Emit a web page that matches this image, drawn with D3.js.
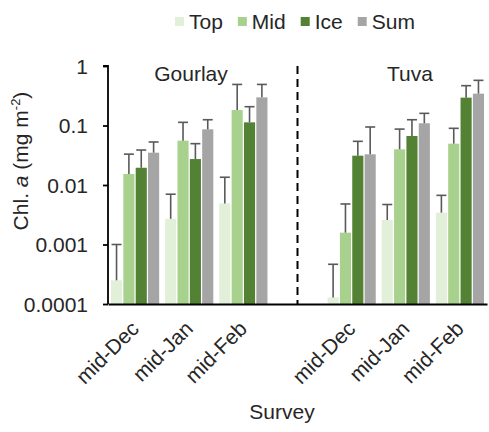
<!DOCTYPE html>
<html><head><meta charset="utf-8">
<script src="https://cdn.jsdelivr.net/npm/d3@7"></script>
<style>
body{margin:0;background:#fff;}
text{font-family:"Liberation Sans",Arial,sans-serif;fill:#262626;}
</style></head>
<body><svg id="c" width="489" height="432"></svg>
<script>
const categories = ["mid-Dec","mid-Jan","mid-Feb"];
const sites = ["Gourlay","Tuva"];
const seriesNames = ["Top","Mid","Ice","Sum"];
const seriesColors = ["#e2efd9","#a9d18e","#548235","#a5a5a5"];
const yTicks = [0.0001,0.001,0.01,0.1,1];
const yTickLabels = ["0.0001","0.001","0.01","0.1","1"];
// means per series (Top, Mid, Ice, Sum), one value per survey
const gourlayTop = [0.00025,0.0027,0.0049];
const gourlayMid = [0.0153,0.0556,0.182];
const gourlayIce = [0.0195,0.0273,0.113];
const gourlaySum = [0.0349,0.0863,0.297];
// upper end of error bars
const gourlayTopUp = [0.001,0.007,0.0135];
const gourlayMidUp = [0.033,0.113,0.49];
const gourlayIceUp = [0.0387,0.0495,0.207];
const gourlaySumUp = [0.0528,0.125,0.49];
const tuvaTop = [0.000129,0.00258,0.00343];
const tuvaMid = [0.00158,0.0398,0.0495];
const tuvaIce = [0.0311,0.0666,0.294];
const tuvaSum = [0.0328,0.109,0.343];
const tuvaTopUp = [0.000465,0.0047,0.0067];
const tuvaMidUp = [0.0048,0.087,0.0897];
const tuvaIceUp = [0.0542,0.125,0.467];
const tuvaSumUp = [0.0944,0.16,0.574];

const siteMeans = {Gourlay:[gourlayTop,gourlayMid,gourlayIce,gourlaySum], Tuva:[tuvaTop,tuvaMid,tuvaIce,tuvaSum]};
const siteUps = {Gourlay:[gourlayTopUp,gourlayMidUp,gourlayIceUp,gourlaySumUp], Tuva:[tuvaTopUp,tuvaMidUp,tuvaIceUp,tuvaSumUp]};

const slots = [];
sites.forEach((s,i)=>{ if(i>0) slots.push("gap"); categories.forEach(c=>slots.push(s+"|"+c)); });
const rows = [];
sites.forEach(s=>categories.forEach((c,ci)=>seriesNames.forEach((n,si)=>{
  rows.push({slot:s+"|"+c, series:n, color:seriesColors[si], v:siteMeans[s][si][ci], up:siteUps[s][si][ci]});
})));

const FS = "21px";
const svg = d3.select("#c");
const pL=108, pR=487, pT=66, pB=304;
const x0 = d3.scaleBand().domain(slots).range([pL,pR]).paddingInner(0.11).paddingOuter(0.055);
const x1 = d3.scaleBand().domain(seriesNames).range([0,x0.bandwidth()]).paddingInner(0.1);
const y = d3.scaleLog().domain([0.0001,1]).range([pB,pT]);

// bars
svg.append("g").selectAll("rect").data(rows).join("rect")
  .attr("x",d=>x0(d.slot)+x1(d.series))
  .attr("y",d=>y(d.v))
  .attr("width",x1.bandwidth())
  .attr("height",d=>pB-y(d.v))
  .attr("fill",d=>d.color);

// error bars
const eg = svg.append("g").attr("stroke","#595959").attr("stroke-width",1.6);
rows.forEach(d=>{
  const cx = x0(d.slot)+x1(d.series)+x1.bandwidth()/2;
  eg.append("line").attr("x1",cx).attr("x2",cx).attr("y1",y(d.v)).attr("y2",y(d.up));
  eg.append("line").attr("x1",cx-5).attr("x2",cx+5).attr("y1",y(d.up)).attr("y2",y(d.up));
});

// y axis
const ya = svg.append("g").attr("transform",`translate(${pL},0)`)
  .call(d3.axisLeft(y).tickValues(yTicks).tickFormat((d,i)=>yTickLabels[i]).tickSize(5).tickPadding(15));
ya.select(".domain").attr("stroke","#000").attr("stroke-width",1.8).attr("d",`M-5,${pT}H0V${pB}`);
ya.selectAll(".tick line").attr("stroke","#000").attr("stroke-width",1.8);
ya.selectAll(".tick text").style("font-size",FS).attr("fill","#262626").attr("dy","0.35em");

// x axis
const xa = svg.append("g").attr("transform",`translate(0,${pB})`)
  .call(d3.axisBottom(x0).tickValues(slots.filter(s=>s!=="gap")).tickFormat(s=>s.split("|")[1]).tickSize(0));
xa.select(".domain").attr("stroke","#000").attr("stroke-width",1.8);
xa.selectAll(".tick text").style("font-size",FS).attr("fill","#262626")
  .attr("text-anchor","end").attr("dy","0").attr("y",0)
  .attr("transform","translate(5,26) rotate(-45)");

// dashed divider
svg.append("line").attr("x1",x0("gap")+x0.bandwidth()/2).attr("x2",x0("gap")+x0.bandwidth()/2)
  .attr("y1",pT).attr("y2",pB).attr("stroke","#000").attr("stroke-width",2).attr("stroke-dasharray","8,5");

// site labels
const siteX = {Gourlay:191, Tuva:410};
sites.forEach(s=>svg.append("text").attr("x",siteX[s]).attr("y",81).attr("text-anchor","middle").style("font-size",FS).text(s));

// axis titles
svg.append("text").attr("x",282).attr("y",419).attr("text-anchor","middle").style("font-size",FS).text("Survey");
const yt = svg.append("text").attr("transform","translate(28,161) rotate(-90)").attr("text-anchor","middle").style("font-size",FS);
yt.append("tspan").text("Chl. ");
yt.append("tspan").style("font-style","italic").text("a");
yt.append("tspan").text(" (mg m");
yt.append("tspan").attr("dy","-8").style("font-size","13px").text("-2");
yt.append("tspan").attr("dy","8").text(")");

// legend
let lx = 175;
const lg = svg.append("g");
seriesNames.forEach((n,i)=>{
  lg.append("rect").attr("x",lx).attr("y",17).attr("width",9).attr("height",9).attr("fill",seriesColors[i]);
  const t = lg.append("text").attr("x",lx+14).attr("y",29).style("font-size",FS).text(n);
  lx = lx+14+t.node().getComputedTextLength()+15;
});
</script></body></html>
